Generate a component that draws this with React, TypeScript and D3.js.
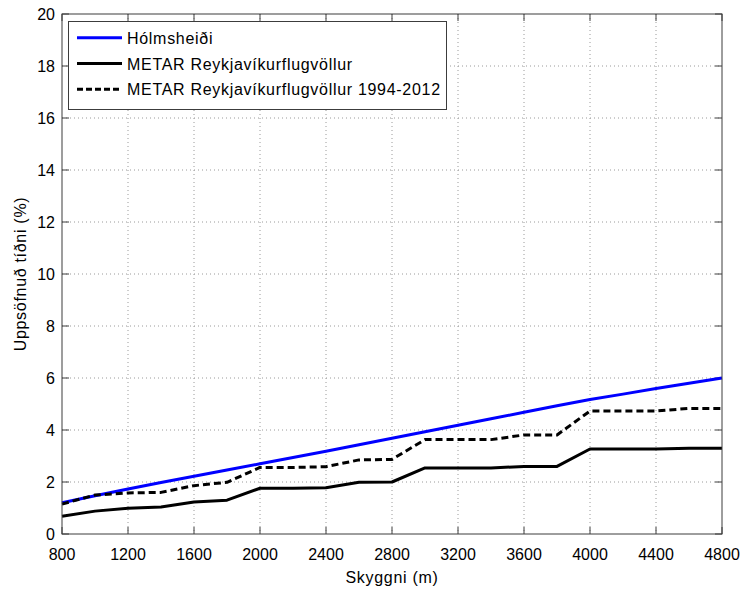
import React from "react";
import * as d3 from "d3";

const visibility = [800, 1000, 1200, 1400, 1600, 1800, 2000, 2200, 2400, 2600, 2800, 3000, 3200, 3400, 3600, 3800, 4000, 4200, 4400, 4600, 4800];
const holmsheidi = [1.2, 1.47, 1.73, 1.98, 2.22, 2.46, 2.7, 2.94, 3.18, 3.43, 3.68, 3.93, 4.18, 4.43, 4.68, 4.93, 5.17, 5.38, 5.6, 5.8, 6.0];
const metar = [0.68, 0.88, 0.99, 1.04, 1.23, 1.3, 1.76, 1.76, 1.78, 1.99, 2.0, 2.54, 2.54, 2.54, 2.6, 2.6, 3.27, 3.27, 3.27, 3.3, 3.3];
const metar19942012 = [1.15, 1.5, 1.58, 1.6, 1.86, 1.99, 2.56, 2.56, 2.59, 2.85, 2.87, 3.63, 3.63, 3.63, 3.81, 3.81, 4.73, 4.73, 4.73, 4.83, 4.83];
const xTicks = [800, 1200, 1600, 2000, 2400, 2800, 3200, 3600, 4000, 4400, 4800];
const yTicks = [0, 2, 4, 6, 8, 10, 12, 14, 16, 18, 20];
const seriesNames = ["Hólmsheiði", "METAR Reykjavíkurflugvöllur", "METAR Reykjavíkurflugvöllur 1994-2012"];

const W = 742;
const H = 590;
const left = 62;
const right = 722;
const top = 14;
const bottom = 534;
const FONT = "'Liberation Sans', Arial, sans-serif";
const WORD_SPACING = 0.7;

export default function App() {
  const x = d3.scaleLinear().domain([800, 4800]).range([left, right]);
  const y = d3.scaleLinear().domain([0, 20]).range([bottom, top]);
  const line = (vals: number[]) =>
    d3
      .line<number>()
      .x((_, i) => x(visibility[i]))
      .y((v) => y(v))(vals) ?? "";

  const series = [
    { name: seriesNames[0], vals: holmsheidi, color: "#0000ff", dash: undefined as string | undefined },
    { name: seriesNames[1], vals: metar, color: "#000000", dash: undefined },
    { name: seriesNames[2], vals: metar19942012, color: "#000000", dash: "7,4" },
  ];

  const grid = "#9a9a9a";
  const frame = "#3c3c3c";
  const tickLen = 7;

  return (
    <svg
      width={W}
      height={H}
      style={{ position: "absolute", left: 0, top: 0, background: "#fff" }}
      fontFamily={FONT}
    >
      <rect x={0} y={0} width={W} height={H} fill="#fff" />
      {/* grid */}
      {xTicks.slice(1, -1).map((t) => (
        <line key={"gx" + t} x1={x(t)} x2={x(t)} y1={top} y2={bottom} stroke={grid} strokeWidth={1} strokeDasharray="1,3" />
      ))}
      {yTicks.slice(1, -1).map((t) => (
        <line key={"gy" + t} x1={left} x2={right} y1={y(t)} y2={y(t)} stroke={grid} strokeWidth={1} strokeDasharray="1,3" />
      ))}
      {/* ticks */}
      {xTicks.map((t) => (
        <g key={"tx" + t}>
          <line x1={x(t)} x2={x(t)} y1={bottom} y2={bottom - tickLen} stroke={frame} />
          <line x1={x(t)} x2={x(t)} y1={top} y2={top + tickLen} stroke={frame} />
          <text x={x(t)} y={560} textAnchor="middle" fontSize={16} fill="#000">
            {t}
          </text>
        </g>
      ))}
      {yTicks.map((t) => (
        <g key={"ty" + t}>
          <line x1={left} x2={left + tickLen} y1={y(t)} y2={y(t)} stroke={frame} />
          <line x1={right} x2={right - tickLen} y1={y(t)} y2={y(t)} stroke={frame} />
          <text x={55} y={y(t) + 6} textAnchor="end" fontSize={16} fill="#000">
            {t}
          </text>
        </g>
      ))}
      {/* series */}
      {series.map((s) => (
        <path
          key={s.name}
          d={line(s.vals)}
          fill="none"
          stroke={s.color}
          strokeWidth={3}
          strokeDasharray={s.dash}
          strokeLinejoin="round"
        />
      ))}
      {/* frame */}
      <rect x={left} y={top} width={right - left} height={bottom - top} fill="none" stroke={frame} strokeWidth={1} />
      {/* legend */}
      <rect x={68.5} y={21.5} width={378} height={88} fill="#fff" stroke={frame} strokeWidth={1} />
      {series.map((s, i) => {
        const ly = 37.7 + i * 25.8;
        return (
          <g key={"lg" + i}>
            <line x1={77} x2={122} y1={ly} y2={ly} stroke={s.color} strokeWidth={3} strokeDasharray={s.dash ? "6,3" : undefined} />
            <text x={127} y={ly + 6} fontSize={16} fill="#000" letterSpacing={WORD_SPACING}>
              {s.name}
            </text>
          </g>
        );
      })}
      {/* axis titles */}
      <text x={(left + right) / 2} y={583} textAnchor="middle" fontSize={16} fill="#000" letterSpacing={WORD_SPACING}>
        Skyggni (m)
      </text>
      <text
        transform={`translate(26, ${(top + bottom) / 2}) rotate(-90)`}
        textAnchor="middle"
        fontSize={16}
        fill="#000"
        letterSpacing={WORD_SPACING}
      >
        Uppsöfnuð tíðni (%)
      </text>
    </svg>
  );
}
